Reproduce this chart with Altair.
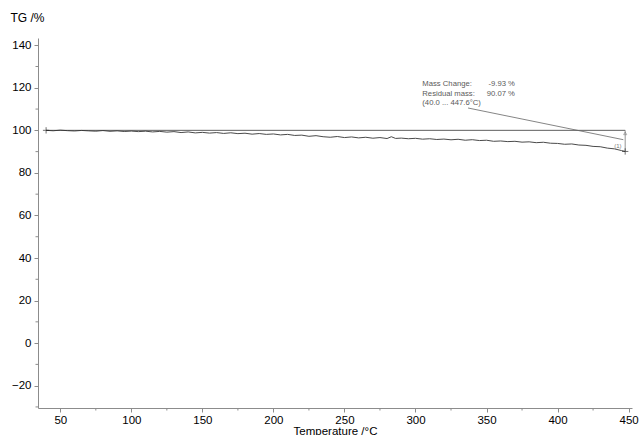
import altair as alt
import pandas as pd

# TG curve: temperature (°C) and residual mass (%)
temperature = [40, 45, 50, 55, 60, 65, 70, 75, 80, 85, 90, 95, 100, 105, 110, 115,
               120, 125, 130, 135, 140, 145, 150, 155, 160, 165, 170, 175, 180, 185,
               190, 195, 200, 205, 210, 215, 220, 225, 230, 235, 240, 245, 250, 255,
               260, 265, 270, 275, 280, 283, 286, 290, 295, 300, 305, 310, 315, 320,
               325, 330, 335, 340, 345, 350, 355, 360, 365, 370, 375, 380, 385, 390,
               395, 400, 405, 410, 415, 420, 425, 430, 435, 440, 445, 447.6]
mass = [100.0, 99.8, 100.1, 99.85, 99.7, 99.95, 99.75, 99.6, 99.9, 99.55, 99.75, 99.45,
        99.65, 99.4, 99.6, 99.25, 99.5, 99.15, 99.4, 98.95, 99.25, 98.8, 99.05, 98.7,
        98.95, 98.55, 98.85, 98.45, 98.65, 98.2, 98.5, 98.1, 98.3, 97.85, 98.1, 97.6,
        97.75, 97.2, 97.5, 97.0, 96.75, 97.1, 96.6, 96.9, 96.45, 96.75, 96.3, 96.6,
        96.15, 97.0, 96.2, 96.35, 96.05, 96.25, 95.85, 96.05, 95.7, 95.9, 95.55, 95.8,
        95.35, 95.6, 95.2, 95.35, 94.85, 95.0, 94.7, 94.85, 94.45, 94.6, 94.2, 94.4,
        93.95, 93.85, 93.45, 93.6, 93.1, 92.95, 92.45, 92.3, 91.65, 91.3, 90.5, 90.07]

# axis ticks
x_major = [50, 100, 150, 200, 250, 300, 350, 400, 450]
x_minor = [75, 125, 175, 225, 275, 325, 375, 425]
y_major = [-20, 0, 20, 40, 60, 80, 100, 120, 140]
y_minor = [-30, -10, 10, 30, 50, 70, 90, 110, 130]

# evaluation step
t_start, t_end = temperature[0], temperature[-1]
m_start, m_end = mass[0], mass[-1]
mass_change = m_end - m_start

FONT = "Liberation Sans"
AX = "#8c8c8c"
NOTE = "#5a5a5a"

curve = pd.DataFrame({"T": temperature, "TG": mass})
xs = alt.Scale(domain=[34.3, 452.4], nice=False, zero=False)
ys = alt.Scale(domain=[-30.5, 143.4], nice=False, zero=False)

line = alt.Chart(curve).mark_line(color="#4a4a4a", strokeWidth=1).encode(
    x=alt.X("T:Q", scale=xs,
            axis=alt.Axis(values=x_major, title="Temperature /°C", grid=False,
                          tickSize=4, labelPadding=2, titlePadding=0,
                          labelFontSize=11.5, titleFontSize=11.5,
                          titleFontWeight="normal", labelFont=FONT, titleFont=FONT,
                          labelColor="#000", titleColor="#000",
                          domainColor=AX, tickColor=AX, labelFlush=False)),
    y=alt.Y("TG:Q", scale=ys,
            axis=alt.Axis(values=y_major, title="TG /%", grid=False,
                          tickSize=4, labelPadding=3,
                          labelFontSize=11.5, titleFontSize=12,
                          titleFontWeight="normal", labelFont=FONT, titleFont=FONT,
                          labelColor="#000", titleColor="#000",
                          domainColor=AX, tickColor=AX,
                          titleAngle=0, titleAlign="left", titleBaseline="middle",
                          titleX=-28, titleY=-21)),
)

# minor ticks
ymin_df = pd.DataFrame({"v": y_minor})
xmin_df = pd.DataFrame({"v": x_minor})
y_minor_ticks = alt.Chart(ymin_df).mark_rule(color=AX, strokeWidth=1).encode(
    y=alt.Y("v:Q", scale=ys), x=alt.value(-2.5), x2=alt.value(0))
x_minor_ticks = alt.Chart(xmin_df).mark_rule(color=AX, strokeWidth=1).encode(
    x=alt.X("v:Q", scale=xs), y=alt.value(370), y2=alt.value(372.5))

# baseline at the start mass
base_df = pd.DataFrame({"x1": [t_start], "x2": [t_end], "y": [m_start]})
baseline = alt.Chart(base_df).mark_rule(color="#333", strokeWidth=0.8).encode(
    x=alt.X("x1:Q", scale=xs), x2="x2:Q", y=alt.Y("y:Q", scale=ys))

# mass-change arrow
arrow_df = pd.DataFrame({"x": [t_end], "y1": [m_start], "y2": [m_end]})
arrow = alt.Chart(arrow_df).mark_rule(color="#777", strokeWidth=0.8).encode(
    x=alt.X("x:Q", scale=xs), y=alt.Y("y1:Q", scale=ys), y2="y2:Q")
head_df = pd.DataFrame({"x": [t_end], "y": [m_start - 1.4]})
head = alt.Chart(head_df).mark_point(shape="triangle-up", filled=False,
                                     color="#777", size=10, strokeWidth=0.8).encode(
    x=alt.X("x:Q", scale=xs), y=alt.Y("y:Q", scale=ys))

# start / end crosses
cross_df = pd.DataFrame({"x": [t_start, t_end], "y": [m_start, m_end]})
crosses = alt.Chart(cross_df).mark_point(shape="M-1,0L1,0M0,-1L0,1", filled=False,
                                         color="#222", size=40, strokeWidth=0.9).encode(
    x=alt.X("x:Q", scale=xs), y=alt.Y("y:Q", scale=ys))

# step number
num_df = pd.DataFrame({"x": [t_end - 2.5], "y": [m_end + 2.6], "t": ["(1)"]})
num = alt.Chart(num_df).mark_text(font=FONT, fontSize=6, color="#777",
                                  align="right").encode(
    x=alt.X("x:Q", scale=xs), y=alt.Y("y:Q", scale=ys), text="t:N")

# leader line from the result box
lead_df = pd.DataFrame({"x1": [337.0], "y1": [110.5], "x2": [446.3], "y2": [95.6]})
leader = alt.Chart(lead_df).mark_rule(color="#666", strokeWidth=0.8).encode(
    x=alt.X("x1:Q", scale=xs), y=alt.Y("y1:Q", scale=ys), x2="x2:Q", y2="y2:Q")

# result text: captions left-aligned, numbers right-aligned
lab_df = pd.DataFrame({
    "x": [304.8, 304.8, 304.8],
    "y": [121.8, 117.1, 112.7],
    "t": ["Mass Change:", "Residual mass:", f"({t_start:.1f} ... {t_end:.1f}°C)"],
})
val_df = pd.DataFrame({
    "x": [370.0, 370.0],
    "y": [121.8, 117.1],
    "t": [f"{mass_change:.2f} %", f"{m_end:.2f} %"],
})
labels = alt.Chart(lab_df).mark_text(font=FONT, fontSize=7.7, color=NOTE,
                                     align="left").encode(
    x=alt.X("x:Q", scale=xs), y=alt.Y("y:Q", scale=ys), text="t:N")
values = alt.Chart(val_df).mark_text(font=FONT, fontSize=7.7, color=NOTE,
                                     align="right").encode(
    x=alt.X("x:Q", scale=xs), y=alt.Y("y:Q", scale=ys), text="t:N")

chart = alt.layer(
    line, y_minor_ticks, x_minor_ticks, baseline, arrow, head, leader,
    crosses, num, labels, values,
).properties(
    width=594, height=370,
    autosize=alt.AutoSizeParams(type="none"),
    padding={"left": 38, "top": 38, "right": 8, "bottom": 27},
    background="white",
).configure_view(stroke=None)

chart.save("out.html", embed_options={"renderer": "svg", "actions": False})
